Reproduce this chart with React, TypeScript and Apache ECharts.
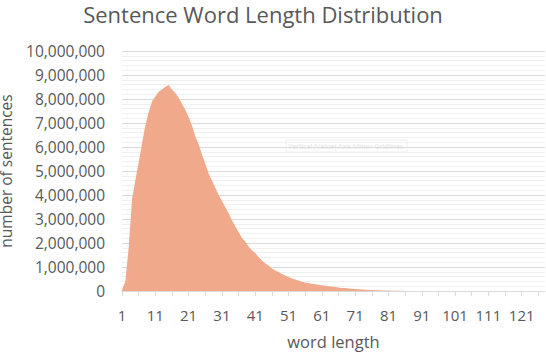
import React, { useEffect, useRef } from "react";
import * as echarts from "echarts";

const titleText = "Sentence Word Length Distribution";
const xAxisName = "word length";
const yAxisName = "number of sentences";
const watermark = "Vertical (Value) Axis Minor Gridlines";

const wordLengths: string[] = Array.from({ length: 128 }, (_, i) => String(i + 1));

const sentenceCounts: number[] = [
  50000, 400000, 1800000, 3800000, 4600000, 5350000, 6150000, 6900000, 7450000, 7900000,
  8100000, 8300000, 8400000, 8500000, 8580000, 8400000, 8250000, 8050000, 7800000, 7550000,
  7250000, 6900000, 6450000, 6100000, 5700000, 5300000, 4900000, 4600000, 4300000, 4000000,
  3750000, 3500000, 3250000, 2950000, 2700000, 2450000, 2220000, 2060000, 1850000, 1700000,
  1580000, 1420000, 1270000, 1160000, 1060000, 940000, 850000, 790000, 710000, 650000,
  580000, 520000, 480000, 440000, 390000, 350000, 320000, 300000, 280000, 260000,
  240000, 220000, 200000, 185000, 165000, 150000, 130000, 120000, 105000, 92000,
  80000, 70000, 60000, 52000, 45000, 40000, 35000, 30000, 25000, 20000,
  16000, 13000, 10000, 8000, 6500, 5000, 4000, 3200, 2500, 2000,
  1600, 1300, 1000, 800, 650, 500, 400, 320, 260, 210,
  170, 140, 110, 90, 75, 60, 50, 40, 32, 26,
  21, 17, 14, 11, 9, 7, 6, 5, 4, 3,
  3, 2, 2, 1, 1, 1, 1, 1,
];

const FONT = "'Open Sans', sans-serif";
const TEXT = "#595959";

export default function App() {
  const ref = useRef<HTMLDivElement>(null);
  useEffect(() => {
    document.body.style.margin = "0";
    const chart = echarts.init(ref.current!, undefined, { renderer: "svg" });
    chart.setOption({
      animation: false,
      backgroundColor: "#ffffff",
      title: {
        text: titleText,
        left: 263,
        top: 3,
        padding: 0,
        textAlign: "center",
        textStyle: { fontFamily: FONT, fontSize: 22, fontWeight: "normal", color: TEXT },
      },
      grid: {
        left: 122,
        right: 1,
        top: 51,
        bottom: 61,
        containLabel: false,
        outerBoundsMode: "none",
      },
      xAxis: {
        type: "category",
        data: wordLengths,
        boundaryGap: false,
        name: xAxisName,
        nameLocation: "middle",
        nameGap: 42,
        nameTextStyle: { fontFamily: FONT, fontSize: 16.5, color: TEXT },
        axisLine: { lineStyle: { color: "#d9d9d9", width: 1 } },
        axisTick: { interval: 4, length: 5, lineStyle: { color: "#d9d9d9" } },
        axisLabel: {
          interval: 9,
          margin: 16,
          fontFamily: FONT,
          fontSize: 15,
          color: TEXT,
        },
        splitLine: { show: false },
      },
      yAxis: {
        type: "value",
        min: 0,
        max: 10000000,
        interval: 1000000,
        name: yAxisName,
        nameLocation: "middle",
        nameGap: 99,
        nameTextStyle: { fontFamily: FONT, fontSize: 15.5, lineHeight: 18, color: TEXT },
        axisLine: { show: false },
        axisTick: { show: false },
        axisLabel: {
          margin: 17,
          fontFamily: FONT,
          fontSize: 15.5,
          color: TEXT,
          formatter: (v: number) => v.toLocaleString("en-US"),
        },
        splitLine: { lineStyle: { color: "#d9d9d9", width: 1 } },
        minorTick: { show: false, splitNumber: 5 },
        minorSplitLine: { show: true, lineStyle: { color: "#f0f0f0", width: 1 } },
      },
      graphic: [
        {
          type: "rect",
          shape: { x: 286, y: 140, width: 121, height: 12 },
          style: { fill: "rgba(255,255,255,0)", stroke: "#eeeeee", lineWidth: 1 },
          z: 10,
        },
        {
          type: "text",
          x: 288,
          y: 146,
          style: {
            text: watermark,
            fontFamily: FONT,
            fontSize: 7,
            fill: "#e2e2e2",
            textVerticalAlign: "middle",
          },
          z: 10,
        },
      ],
      series: [
        {
          type: "line",
          data: sentenceCounts,
          symbol: "none",
          lineStyle: { width: 0 },
          areaStyle: { color: "#F0A98B", opacity: 1 },
          itemStyle: { color: "#F0A98B" },
        },
      ],
    });
    return () => chart.dispose();
  }, []);
  return <div ref={ref} style={{ width: 546, height: 352 }} />;
}
